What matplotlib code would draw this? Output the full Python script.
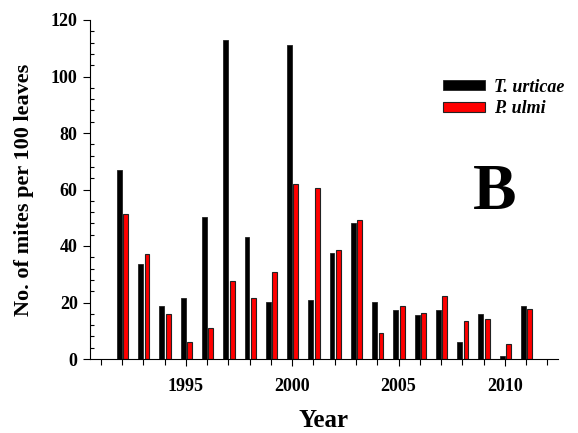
"""Mite counts per 100 leaves by year (panel B)."""

import matplotlib.pyplot as plt
from matplotlib.ticker import MultipleLocator
import numpy as np

years = list(range(1992, 2012))
t_urticae = [66.8, 33.6, 18.9, 21.7, 50.2, 112.9, 43.2, 20.3, 111.0, 21.0,
             37.4, 48.1, 20.3, 17.3, 15.7, 17.5, 5.9, 16.0, 1.2, 18.9]
p_ulmi = [51.2, 37.2, 15.9, 6.1, 11.1, 27.5, 21.7, 30.7, 62.1, 60.6,
          38.7, 49.1, 9.1, 18.9, 16.4, 22.2, 13.5, 14.2, 5.2, 17.7]

plt.rcParams["font.family"] = ["Liberation Serif", "DejaVu Serif"]
plt.rcParams["font.weight"] = "bold"

fig = plt.figure(figsize=(5.78, 4.33), dpi=100)
ax = fig.add_axes([89.5 / 578, 1 - 359 / 433, (558 - 89.5) / 578, (359 - 20) / 433])

x = np.array(years)
w = 0.23
ax.bar(x - w / 2 - 0.01, t_urticae, w, color="black", edgecolor="#222222",
       linewidth=0.6, label="T. urticae")
ax.bar(x + 0.06 + w / 2, p_ulmi, w, color="#ff0000", edgecolor="#222222",
       linewidth=0.8, label="P. ulmi")

ax.set_xlim(1990.47, 2012.5)
ax.set_ylim(0, 120)
ax.spines["top"].set_visible(False)
ax.spines["right"].set_visible(False)
ax.xaxis.set_major_locator(MultipleLocator(5))
ax.xaxis.set_minor_locator(MultipleLocator(1))
ax.yaxis.set_major_locator(MultipleLocator(20))
ax.yaxis.set_minor_locator(MultipleLocator(4))
ax.tick_params(axis="x", which="major", direction="out", length=5, width=0.8,
               labelsize=13, pad=9)
ax.tick_params(axis="x", which="minor", direction="out", length=4, width=0.8)
ax.tick_params(axis="y", which="major", direction="out", length=5, width=0.8,
               labelsize=13)
ax.tick_params(axis="y", which="minor", direction="in", length=3, width=0.8)
for lab in ax.get_xticklabels() + ax.get_yticklabels():
    lab.set_fontweight("bold")

ax.set_xlabel("Year", fontsize=18, fontweight="bold", labelpad=10)
ax.set_ylabel("No. of mites per 100 leaves", fontsize=16, fontweight="bold",
              labelpad=12)

leg = ax.legend(loc="upper left", bbox_to_anchor=(0.72, 0.875), frameon=False,
                handlelength=2.3, handleheight=0.5, handletextpad=0.5,
                labelspacing=0.25,
                prop={"style": "italic", "weight": "bold", "size": 13})

ax.text(0.865, 0.49, "B", transform=ax.transAxes, fontsize=47,
        fontweight="bold", ha="center", va="center")

fig.savefig("out.png", dpi=100)
